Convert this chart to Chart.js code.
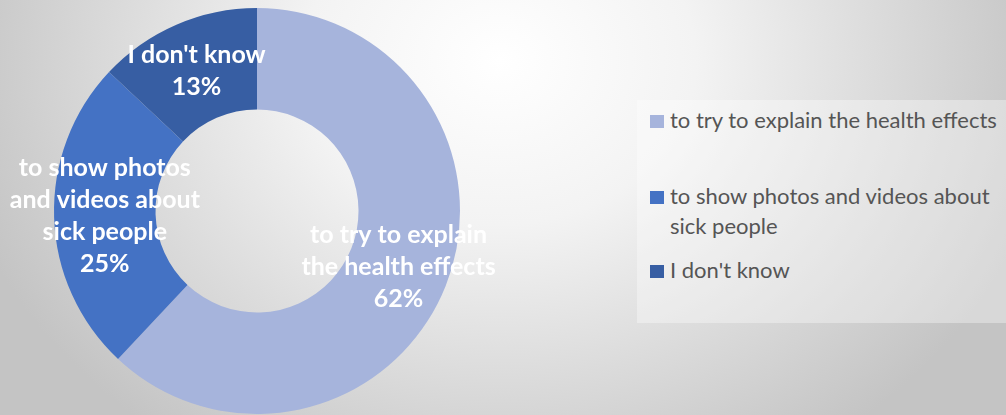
<!DOCTYPE html>
<html>
<head>
<meta charset="utf-8">
<script src="https://cdn.jsdelivr.net/npm/chart.js@4.4.1/dist/chart.umd.min.js"></script>
<style>
  html, body { margin: 0; padding: 0; }
  body {
    width: 1006px; height: 415px; overflow: hidden; position: relative;
    background: radial-gradient(ellipse 560px 470px at 500px 60px, #ffffff 0%, #f3f3f3 35%, #c4c4c4 100%);
    font-family: Lato, "Open Sans", sans-serif;
  }
  #wrap { position: absolute; left: 0; top: 0; width: 514px; height: 415px; }
  #legend {
    position: absolute; left: 637px; top: 100px; width: 369px; height: 223px;
    background: rgba(255,255,255,0.35);
  }
  .item { position: absolute; left: 13px; width: 362px; color: #555555; font-size: 22px; line-height: 30px; white-space: normal; }
  .item .box { position: absolute; left: 0; top: 10px; width: 14px; height: 13px; }
  .item .txt { margin-left: 20px; display: block; }
</style>
</head>
<body>
<div id="wrap"><canvas id="c"></canvas></div>
<div id="legend"></div>
<script>
// Responses: how best to convince people of the health risks
const categories = ["to try to explain the health effects", "to show photos and videos about sick people", "I don't know"];
const shares = [62, 25, 13];
const sliceColors = ["#A6B4DC", "#4472C4", "#375EA3"];
// Wrapped lines used for the in-slice labels
const labelLines = [
  ["to try to explain", "the health effects"],
  ["to show photos", "and videos about", "sick people"],
  ["I don't know"]
];

// Draws the category name and percentage centred on each slice
const sliceLabels = {
  id: 'sliceLabels',
  afterDatasetsDraw(chart) {
    const ctx = chart.ctx;
    const meta = chart.getDatasetMeta(0);
    const data = chart.data.datasets[0].data;
    ctx.save();
    ctx.fillStyle = '#ffffff';
    ctx.font = 'bold 25px Lato, "Open Sans", sans-serif';
    ctx.textAlign = 'center';
    ctx.textBaseline = 'middle';
    const lh = 32;
    meta.data.forEach((arc, i) => {
      const p = arc.tooltipPosition();
      const lines = labelLines[i].concat([data[i] + '%']);
      const y0 = p.y - (lines.length - 1) * lh / 2;
      lines.forEach((t, k) => ctx.fillText(t, p.x, y0 + k * lh));
    });
    ctx.restore();
  }
};

const chart = new Chart(document.getElementById('c'), {
  type: 'doughnut',
  data: {
    labels: categories,
    datasets: [{ data: shares, backgroundColor: sliceColors, borderWidth: 0 }]
  },
  options: {
    responsive: true,
    maintainAspectRatio: false,
    animation: false,
    cutout: '50%',
    layout: { padding: { top: 8, bottom: 1, left: 0, right: 0 } },
    plugins: { legend: { display: false }, tooltip: { enabled: false } }
  },
  plugins: [sliceLabels]
});

// Legend built from the chart's own labels and colours
const itemTops = [5, 81, 155];
const legendEl = document.getElementById('legend');
chart.data.labels.forEach((name, i) => {
  const it = document.createElement('div');
  it.className = 'item';
  it.style.top = itemTops[i] + 'px';
  const b = document.createElement('span');
  b.className = 'box';
  b.style.background = chart.data.datasets[0].backgroundColor[i];
  const t = document.createElement('span');
  t.className = 'txt';
  t.textContent = name;
  it.appendChild(b); it.appendChild(t);
  legendEl.appendChild(it);
});
</script>
</body>
</html>
